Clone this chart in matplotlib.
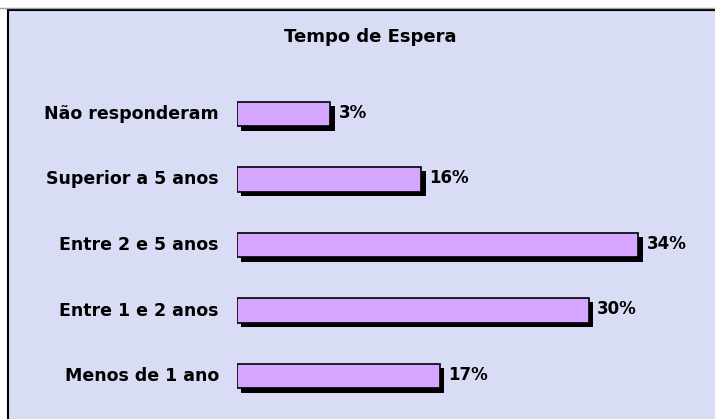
import matplotlib
matplotlib.use('Agg')
import matplotlib.pyplot as plt
import matplotlib.patheffects as pe
from matplotlib.patches import Rectangle

# data (bottom to top)
categories = ['Menos de 1 ano', 'Entre 1 e 2 anos', 'Entre 2 e 5 anos',
              'Superior a 5 anos', 'Não responderam']
pct_labels = ['17%', '30%', '34%', '16%', '3%']
# bar lengths as drawn in the picture (in % units)
bar_len = [17.2, 29.8, 34.0, 15.6, 7.9]

W, H = 715, 419
fig = plt.figure(figsize=(W / 100, H / 100), dpi=100)
fig.patch.set_facecolor('white')

# background panel with frame, in pixel units
bg = fig.add_axes([0, 0, 1, 1], zorder=-1)
bg.set_xlim(0, W)
bg.set_ylim(H, 0)
bg.axis('off')
bg.add_patch(Rectangle((8, 10), W, H, facecolor='#d8dcf4', edgecolor='none'))
bg.plot([8, 8], [H, 10], color='black', lw=1.5)
bg.plot([8, W], [10, 10], color='black', lw=1.5)
bg.plot([0, W], [8.5, 8.5], color='#a0a0a0', lw=1)

ax = fig.add_axes([237 / W, (H - 408.75) / H, 472 / W, 327.5 / H])
ax.set_xlim(0, 40)
ax.set_ylim(-0.5, 4.5)
ax.axis('off')

y = list(range(len(categories)))
bars = ax.barh(y, bar_len, height=0.38, color='#d4a6ff', edgecolor='black', linewidth=1.2)
for b in bars:
    b.set_path_effects([pe.SimplePatchShadow(offset=(3.2, -3.2), shadow_rgbFace='black', alpha=1),
                        pe.Normal()])

for yi, cat, val, lab in zip(y, categories, bar_len, pct_labels):
    ax.annotate(cat, (0, yi), xytext=(-13, 0), textcoords='offset points',
                ha='right', va='center', fontsize=12.5, fontweight='bold',
                annotation_clip=False)
    ax.annotate(lab, (val, yi), xytext=(6, 1), textcoords='offset points',
                ha='left', va='center', fontsize=12, fontweight='bold',
                annotation_clip=False)

fig.text(370 / W, 1 - 37 / H, 'Tempo de Espera', ha='center', va='center',
         fontsize=13, fontweight='bold')

fig.savefig('out.png', dpi=100)
